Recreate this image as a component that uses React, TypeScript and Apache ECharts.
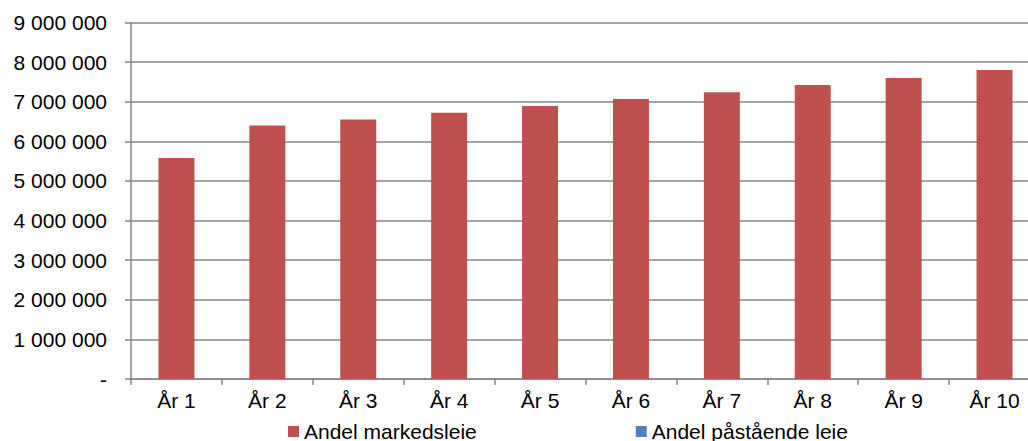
import React, { useEffect, useRef } from "react";
import * as echarts from "echarts";

const categories = ["År 1", "År 2", "År 3", "År 4", "År 5", "År 6", "År 7", "År 8", "År 9", "År 10"];
const markedsleie = [5580000, 6400000, 6550000, 6720000, 6890000, 7070000, 7240000, 7420000, 7600000, 7800000];
const paastaaende = [0, 0, 0, 0, 0, 0, 0, 0, 0, 0];
const seriesNames = ["Andel markedsleie", "Andel påstående leie"];
const yMin = 0;
const yMax = 9000000;
const yStep = 1000000;

function fmt(v: number): string {
  if (v === 0) return "-";
  return String(Math.round(v)).replace(/\B(?=(\d{3})+(?!\d))/g, " ");
}

export default function App() {
  const ref = useRef<HTMLDivElement>(null);
  useEffect(() => {
    document.body.style.margin = "0";
    const chart = echarts.init(ref.current!, null, { renderer: "svg" });
    const font = "'Liberation Sans', Arial, sans-serif";
    const gray = "#868686";
    chart.setOption({
      animation: false,
      textStyle: { fontFamily: font },
      grid: { left: 131, right: 0, top: 22.5, bottom: 62, containLabel: false },
      legend: {
        data: seriesNames,
        left: 283,
        top: 416,
        icon: "rect",
        itemWidth: 11,
        itemHeight: 11,
        itemGap: 159,
        textStyle: { fontFamily: font, fontSize: 21, color: "#000" },
      },
      xAxis: {
        type: "category",
        data: categories,
        axisLine: { lineStyle: { color: gray, width: 1.5 } },
        axisTick: { show: true, length: 6, lineStyle: { color: gray, width: 1.5 } },
        axisLabel: { color: "#000", fontSize: 21, fontFamily: font, margin: 11 },
      },
      yAxis: {
        type: "value",
        min: yMin,
        max: yMax,
        interval: yStep,
        axisLine: { show: true, lineStyle: { color: gray, width: 1.5 } },
        axisTick: { show: true, length: 6, lineStyle: { color: gray, width: 1.5 } },
        splitLine: { lineStyle: { color: gray, width: 1.5 } },
        axisLabel: { color: "#000", fontSize: 21, fontFamily: font, margin: 24, formatter: (v: number) => fmt(v) },
      },
      series: [
        {
          name: seriesNames[0],
          type: "bar",
          stack: "total",
          data: markedsleie,
          barWidth: 36,
          itemStyle: { color: "#C0504D" },
        },
        {
          name: seriesNames[1],
          type: "bar",
          stack: "total",
          data: paastaaende,
          barWidth: 36,
          itemStyle: { color: "#4F81BD" },
        },
      ],
    });
    return () => chart.dispose();
  }, []);
  return (
    <div style={{ width: 1028, height: 441, position: "absolute", left: 0, top: 0, overflow: "hidden" }}>
      <div ref={ref} style={{ width: 1040, height: 441 }} />
    </div>
  );
}
